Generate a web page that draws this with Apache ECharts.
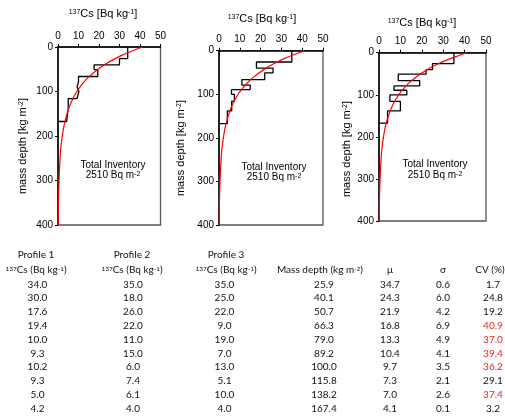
<!DOCTYPE html>
<html>
<head>
<meta charset="utf-8">
<script src="https://cdn.jsdelivr.net/npm/echarts@6/dist/echarts.min.js"></script>
<style>
    html, body { margin: 0; padding: 0; background: #fff; }
    #main { width: 505px; height: 417px; }
</style>
</head>
<body>
<div id="main"></div>
<script>
// 每层底部的质量深度
var depthBottom = [25.9, 40.1, 50.7, 66.3, 79.0, 89.2, 100.0, 115.8, 138.2, 167.4];
var profile1 = [34.0, 30.0, 17.6, 19.4, 10.0, 9.3, 10.2, 9.3, 5.0, 4.2];
var profile2 = [35.0, 18.0, 26.0, 22.0, 11.0, 15.0, 6.0, 7.4, 6.1, 4.0];
var profile3 = [35.0, 25.0, 22.0, 9.0, 19.0, 7.0, 13.0, 5.1, 10.0, 4.0];
var muValues = [34.7, 24.3, 21.9, 16.8, 13.3, 10.4, 9.7, 7.3, 7.0, 4.1];
var sigmaValues = [0.6, 6.0, 4.2, 6.9, 4.9, 4.1, 3.5, 2.1, 2.6, 0.1];
var cvValues = [1.7, 24.8, 19.2, 40.9, 37.0, 39.4, 36.2, 29.1, 37.4, 3.2];

// 红色拟合曲线
var fitDepth = [0, 10, 20, 30, 40, 50, 60, 70, 80, 90, 100, 120, 140, 160, 180, 200, 230, 260, 300, 350, 400];
var fitValue = [41.0, 35.5, 30.5, 26.3, 22.6, 19.5, 16.8, 14.4, 12.4, 10.7, 9.2, 6.8, 5.1, 3.8, 2.8, 2.1, 1.3, 0.9, 0.5, 0.2, 0.1];

var xTicks = [0, 10, 20, 30, 40, 50];
var yTicks = [0, 100, 200, 300, 400];
var inventoryText = ['Total Inventory', '2510 Bq m{sup|-2}'];

var supRich = {
    sup: { fontSize: 7, verticalAlign: 'top', fontFamily: 'Liberation Sans' }
};
var supRichTable = {
    sup: { fontSize: 6.5, verticalAlign: 'top', fontFamily: 'Lato' }
};

// 三个图的位置
var panels = [
    { left: 58, top: 47, width: 102.5, height: 178, title: [103, 14], yname: [23, 146], inv: [113, 165] },
    { left: 219, top: 50.7, width: 104, height: 174.3, title: [262, 19], yname: [181, 148], inv: [274, 167] },
    { left: 379, top: 52.7, width: 107, height: 168.3, title: [422, 22.7], yname: [347, 149], inv: [435, 164.7] }
];
var profiles = [profile1, profile2, profile3];

function stepPoints(vals) {
    var pts = [[vals[0], 0]];
    for (var i = 0; i < vals.length; i++) {
        pts.push([vals[i], depthBottom[i]]);
        if (i + 1 < vals.length) {
            pts.push([vals[i + 1], depthBottom[i]]);
        }
    }
    pts.push([0, depthBottom[depthBottom.length - 1]]);
    return pts;
}

var fitPoints = fitDepth.map(function (d, i) { return [fitValue[i], d]; });

var grids = [], xAxes = [], yAxes = [], series = [], graphics = [];

panels.forEach(function (p, k) {
    grids.push({
        left: p.left, top: p.top, width: p.width, height: p.height,
        show: true, borderColor: '#555', borderWidth: 1.3, backgroundColor: 'transparent'
    });
    xAxes.push({
        gridIndex: k, type: 'value', position: 'top',
        min: xTicks[0], max: xTicks[xTicks.length - 1], interval: 10,
        axisLine: { show: true, lineStyle: { color: '#000', width: 1.5 } },
        axisTick: { show: true, length: 3, lineStyle: { color: '#000' } },
        axisLabel: { margin: 6, color: '#000', fontSize: 10, fontFamily: 'Liberation Sans' },
        splitLine: { show: false }
    });
    yAxes.push({
        gridIndex: k, type: 'value', inverse: true,
        min: yTicks[0], max: yTicks[yTicks.length - 1], interval: 100,
        axisLine: { show: true, lineStyle: { color: '#000', width: 1.5 } },
        axisTick: { show: true, length: 3, lineStyle: { color: '#000' } },
        axisLabel: { margin: 5, color: '#000', fontSize: 10, fontFamily: 'Liberation Sans' },
        splitLine: { show: false }
    });
    series.push({
        type: 'line', xAxisIndex: k, yAxisIndex: k,
        data: stepPoints(profiles[k]),
        symbol: 'none', lineStyle: { color: '#000', width: 1.3 }
    });
    series.push({
        type: 'line', xAxisIndex: k, yAxisIndex: k,
        data: fitPoints, smooth: 0.3,
        symbol: 'none', lineStyle: { color: '#ff0000', width: 1.2 }
    });
    // 标题
    graphics.push({
        type: 'text', x: p.title[0], y: p.title[1],
        style: {
            text: '{sup|137}Cs [Bq kg{sup|-1}]', fontSize: 11, fontFamily: 'Liberation Sans',
            fill: '#000', align: 'center', verticalAlign: 'middle', rich: supRich
        }
    });
    graphics.push({
        type: 'text', x: p.yname[0], y: p.yname[1], rotation: Math.PI / 2,
        style: {
            text: 'mass depth [kg m{sup|-2}]', fontSize: 11, fontFamily: 'Liberation Sans',
            fill: '#000', align: 'center', verticalAlign: 'middle', rich: supRich
        }
    });
    graphics.push({
        type: 'text', x: p.inv[0], y: p.inv[1],
        style: {
            text: inventoryText[0], fontSize: 10, fontFamily: 'Liberation Sans',
            fill: '#000', align: 'center', verticalAlign: 'middle'
        }
    });
    graphics.push({
        type: 'text', x: p.inv[0], y: p.inv[1] + 10.5,
        style: {
            text: inventoryText[1], fontSize: 10, fontFamily: 'Liberation Sans',
            fill: '#000', align: 'center', verticalAlign: 'middle', rich: supRich
        }
    });
});

// 表格
var colX = [37.5, 133, 224.5, 324, 390, 443, 493];
var headerX = [36, 132, 226, 320, 390, 443, 490];
var rowY0 = 284.3, rowStep = 13.8;
var header1 = ['Profile 1', 'Profile 2', 'Profile 3'];
var header2 = ['{sup|137}Cs (Bq kg{sup|-1})', '{sup|137}Cs (Bq kg{sup|-1})', '{sup|137}Cs (Bq kg{sup|-1})',
    'Mass depth (kg m{sup|-2})', 'μ', 'σ', 'CV (%)'];

function tableText(x, y, text, color) {
    return {
        type: 'text', x: x, y: y,
        style: {
            text: text, fontSize: 10, fontFamily: 'Lato', fill: color || '#111',
            align: 'center', verticalAlign: 'middle', rich: supRichTable
        }
    };
}

header1.forEach(function (h, i) { graphics.push(tableText(headerX[i], 255, h)); });
header2.forEach(function (h, i) { graphics.push(tableText(headerX[i], 270, h)); });

var columns = [profile1, profile2, profile3, depthBottom, muValues, sigmaValues, cvValues];
columns.forEach(function (col, c) {
    col.forEach(function (v, r) {
        var color = (c === 6 && v > 30) ? '#f02020' : '#111';
        graphics.push(tableText(colX[c], rowY0 + r * rowStep, v.toFixed(1), color));
    });
});

var option = {
    animation: false,
    backgroundColor: '#fff',
    grid: grids,
    xAxis: xAxes,
    yAxis: yAxes,
    series: series,
    graphic: graphics
};

var chart = echarts.init(document.getElementById('main'));
chart.setOption(option);
</script>
</body>
</html>
